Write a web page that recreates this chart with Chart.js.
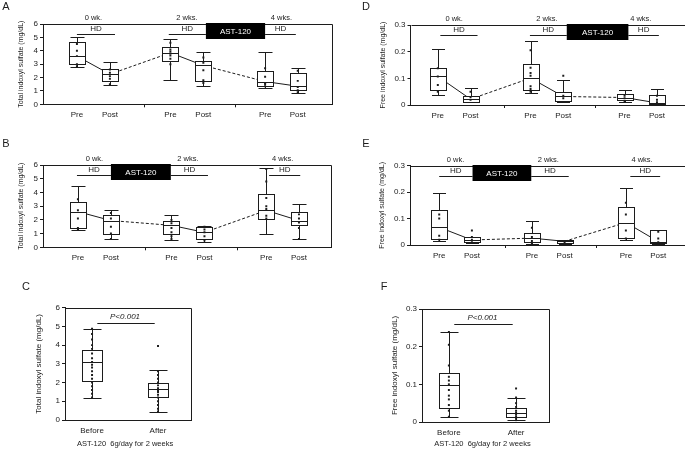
<!DOCTYPE html>
<html>
<head>
<meta charset="utf-8">
<script src="https://cdn.jsdelivr.net/npm/chart.js@4.4.1/dist/chart.umd.min.js"></script>
<style>
  html, body { margin: 0; padding: 0; background: #fff; overflow: hidden; }
  body { position: relative; width: 685px; height: 452px; }
  canvas { position: absolute; }
</style>
</head>
<body>
<canvas id="chartA" width="340" height="132" style="left:0;top:0"></canvas>
<canvas id="chartB" width="340" height="138" style="left:0;top:132px"></canvas>
<canvas id="chartC" width="220" height="182" style="left:0;top:270px"></canvas>
<canvas id="chartD" width="350" height="132" style="left:345px;top:0"></canvas>
<canvas id="chartE" width="350" height="138" style="left:345px;top:132px"></canvas>
<canvas id="chartF" width="220" height="182" style="left:345px;top:270px"></canvas>
<script>
const FONT = "'Liberation Sans', Arial, sans-serif";
const INK = '#1c1c1c';

// categories / tick labels
const sessionLabels = ['Pre', 'Post', 'Pre', 'Post', 'Pre', 'Post'];
const sessionX = [1, 2.03, 3.92, 4.95, 6.88, 7.9];
const sessionSeps = [3.1, 5.97];
const weekLabels = ['0 wk.', '2 wks.', '4 wks.'];
const pairLabels = ['Before', 'After'];
const pairX = [1, 2];
const totalTicks = ['0', '1', '2', '3', '4', '5', '6'];
const freeTicks = ['0', '0.1', '0.2', '0.3'];
const totalTitle = 'Total indoxyl sulfate (mg/dL)';
const freeTitle = 'Free indoxyl sulfate (mg/dL)';

// A: total IS, AST-120 between 2 and 4 wks
const aMin = [2.8, 1.42, 1.8, 1.4, 1.25, 0.82];
const aQ1  = [3.03, 1.74, 3.23, 1.74, 1.4, 1.07];
const aMed = [3.6, 2.25, 3.85, 2.9, 1.7, 1.35];
const aQ3  = [4.67, 2.64, 4.3, 3.23, 2.49, 2.36];
const aMax = [5.0, 3.16, 4.9, 3.93, 3.93, 2.69];
const aDots = [
  [4.5, 4.0, 3.6, 3.0, 2.85],
  [2.6, 2.35, 2.1, 1.9, 1.5],
  [4.6, 4.1, 3.95, 3.8, 3.65, 3.4, 3.0],
  [3.5, 3.1, 2.55, 1.8, 1.6],
  [2.7, 2.05, 1.6, 1.5, 1.35],
  [2.5, 1.75, 1.3, 1.05, 0.9]
];

// B: total IS, AST-120 between 0 and 2 wks
const bMin = [1.26, 0.58, 0.51, 0.36, 0.99, 0.58];
const bQ1  = [1.38, 0.97, 0.95, 0.61, 2.06, 1.6];
const bMed = [2.6, 1.95, 1.6, 1.09, 2.69, 1.95];
const bQ3  = [3.33, 2.33, 1.94, 1.46, 3.86, 2.6];
const bMax = [4.47, 2.72, 2.33, 1.55, 5.75, 3.16];
const bDots = [
  [3.5, 2.7, 2.1, 1.4, 1.3],
  [2.5, 2.1, 1.5, 1.0, 0.6],
  [2.0, 1.75, 1.4, 1.1, 0.8, 0.6],
  [1.5, 1.3, 1.1, 0.8, 0.5],
  [5.7, 4.8, 3.6, 3.0, 2.8, 2.3, 2.1],
  [2.4, 2.1, 1.8, 1.4, 0.6]
];

// C: total IS before / after 2 weeks of AST-120
const cMin = [1.19, 0.44];
const cQ1  = [2.08, 1.21];
const cMed = [3.08, 1.65];
const cQ3  = [3.72, 1.96];
const cMax = [4.88, 2.67];
const cDots = [
  [4.88, 4.6, 4.3, 4.0, 3.8, 3.55, 3.3, 3.1, 2.95, 2.8, 2.6, 2.4, 2.2, 2.0, 1.8, 1.6, 1.4, 1.2],
  [3.95, 2.6, 2.4, 2.2, 2.0, 1.85, 1.7, 1.6, 1.5, 1.35, 1.2, 1.0, 0.8, 0.6, 0.45]
];

// D: free IS, AST-120 between 2 and 4 wks
const dMin = [0.037, 0.01, 0.044, 0.013, 0.011, 0.004];
const dQ1  = [0.057, 0.013, 0.057, 0.015, 0.019, 0.005];
const dMed = [0.107, 0.022, 0.101, 0.032, 0.028, 0.008];
const dQ3  = [0.137, 0.033, 0.154, 0.048, 0.041, 0.036];
const dMax = [0.21, 0.063, 0.24, 0.093, 0.056, 0.059];
const dDots = [
  [0.138, 0.107, 0.075, 0.05],
  [0.05, 0.03, 0.02],
  [0.205, 0.14, 0.12, 0.11, 0.07, 0.06, 0.05],
  [0.11, 0.035, 0.025],
  [0.035, 0.025, 0.015],
  [0.035, 0.02, 0.01]
];

// E: free IS, AST-120 between 0 and 2 wks
const eMin = [0.016, 0.006, 0.004, 0.005, 0.019, 0.005];
const eQ1  = [0.023, 0.01, 0.013, 0.006, 0.028, 0.006];
const eMed = [0.067, 0.019, 0.026, 0.014, 0.085, 0.013];
const eQ3  = [0.132, 0.03, 0.047, 0.02, 0.142, 0.057];
const eMax = [0.195, 0.032, 0.091, 0.02, 0.217, 0.057];
const eDots = [
  [0.115, 0.1, 0.035, 0.02],
  [0.055, 0.03, 0.02, 0.01],
  [0.065, 0.03, 0.015, 0.005],
  [0.015, 0.01],
  [0.16, 0.115, 0.055, 0.025],
  [0.05, 0.025, 0.01]
];

// F: free IS before / after
const fMin = [0.014, 0.004];
const fQ1  = [0.038, 0.013];
const fMed = [0.098, 0.023];
const fQ3  = [0.131, 0.038];
const fMax = [0.239, 0.065];
const fDots = [
  [0.239, 0.205, 0.15, 0.12, 0.11, 0.1, 0.085, 0.07, 0.06, 0.045, 0.03, 0.014],
  [0.089, 0.065, 0.05, 0.04, 0.03, 0.025, 0.02, 0.015, 0.01, 0.005]
];

// layout of each panel (pixels / x-units), kept apart from the data
const panels = [
  { id: 'chartA', letter: 'A', letterAt: [6, 7], box: [aMin, aQ1, aMed, aQ3, aMax], dots: aDots,
    timeline: true, yMax: 6, step: 1, yTicks: totalTicks, title: totalTitle, titleSize: 7, titleX: 20.6,
    xMin: -0.06, xMax: 8.97, pad: { top: 24, right: 8 }, yWidth: 43, xHeight: 27.7, half: 8, cap: 7,
    hd: [[1.0, 2.19], [3.87, 5.03], [6.88, 7.84]], ast: [5.03, 6.88] },
  { id: 'chartB', letter: 'B', letterAt: [6, 12], box: [bMin, bQ1, bMed, bQ3, bMax], dots: bDots,
    timeline: true, yMax: 6, step: 1, yTicks: totalTicks, title: totalTitle, titleSize: 7, titleX: 20.7,
    xMin: -0.09, xMax: 8.9, pad: { top: 33, right: 9 }, yWidth: 43, xHeight: 22.7, half: 8, cap: 7,
    hd: [[0.97, 2.03], [3.9, 5.06], [6.97, 7.94]], ast: [2.03, 3.9] },
  { id: 'chartD', letter: 'D', letterAt: [21, 7], box: [dMin, dQ1, dMed, dQ3, dMax], dots: dDots,
    timeline: true, yMax: 0.3, step: 0.1, yTicks: freeTicks, title: freeTitle, titleSize: 7, titleX: 38,
    xMin: 0.14, xMax: 8.94, pad: { top: 25, right: 5 }, yWidth: 65.5, xHeight: 27, half: 8, cap: 6.5,
    hd: [[1.08, 2.25], [3.9, 5.06], [7.0, 7.96]], ast: [5.06, 7.0] },
  { id: 'chartE', letter: 'E', letterAt: [21, 12], box: [eMin, eQ1, eMed, eQ3, eMax], dots: eDots,
    timeline: true, yMax: 0.3, step: 0.1, yTicks: freeTicks, title: freeTitle, titleSize: 7, titleX: 37.3,
    xMin: 0.08, xMax: 8.9, pad: { top: 33.7, right: 5 }, yWidth: 65, xHeight: 25, half: 8, cap: 6.5,
    hd: [[1.0, 2.05], [3.9, 5.08], [7.02, 7.96]], ast: [2.05, 3.9] },
  { id: 'chartC', letter: 'C', letterAt: [26, 17], box: [cMin, cQ1, cMed, cQ3, cMax], dots: cDots,
    timeline: false, yMax: 6, step: 1, yTicks: totalTicks, title: totalTitle, titleSize: 8, titleX: 38.3,
    xMin: 0.59, xMax: 2.5, pad: { top: 37.7, right: 29 }, yWidth: 65, xHeight: 32, half: 10, cap: 9 },
  { id: 'chartF', letter: 'F', letterAt: [39, 17], box: [fMin, fQ1, fMed, fQ3, fMax], dots: fDots,
    timeline: false, yMax: 0.3, step: 0.1, yTicks: freeTicks, title: freeTitle, titleSize: 8, titleX: 50,
    xMin: 0.6, xMax: 2.49, pad: { top: 39, right: 16 }, yWidth: 77, xHeight: 30, half: 10, cap: 9 }
];

function font(size, style) {
  return { family: FONT, size: size, style: style || 'normal', lineHeight: 1.2 };
}

function makePanel(p) {
  const xs = p.timeline ? sessionX : pairX;
  const labels = p.timeline ? sessionLabels : pairLabels;
  const seps = p.timeline ? sessionSeps : [];
  const tickVals = xs.concat(seps);
  const tickText = labels.concat(seps.map(() => ''));
  const [lo, q1, med, q3, hi] = p.box;

  const datasets = [{
    type: 'scatter',
    label: 'dots',
    order: 1,
    data: p.dots.flatMap((vals, i) => vals.map(v => ({ x: xs[i], y: v }))),
    pointStyle: 'rect',
    pointRadius: 1.4,
    pointBorderWidth: 0,
    backgroundColor: INK,
    borderColor: INK
  }];
  if (p.timeline) {
    datasets.push({
      type: 'line',
      label: 'median',
      order: 2,
      data: xs.map((x, i) => ({ x: x, y: med[i] })),
      borderColor: INK,
      borderWidth: 1,
      pointRadius: 0,
      fill: false,
      tension: 0,
      segment: { borderDash: c => (c.p0DataIndex % 2 === 1 ? [3, 2] : undefined) }
    });
  }

  // box + whiskers, drawn over the median line but under the dots
  const boxPlugin = {
    id: 'boxes',
    beforeDatasetDraw(chart, args) {
      if (chart.data.datasets[args.index].label !== 'dots') return;
      const ctx = chart.ctx, sx = chart.scales.x, sy = chart.scales.y;
      ctx.save();
      ctx.strokeStyle = INK;
      ctx.lineWidth = 1;
      xs.forEach((xv, i) => {
        const cx = Math.round(sx.getPixelForValue(xv)) + 0.5;
        const y = v => Math.round(sy.getPixelForValue(v)) + 0.5;
        const yLo = y(lo[i]), yHi = y(hi[i]), y1 = y(q1[i]), y3 = y(q3[i]), ym = y(med[i]);
        ctx.beginPath();
        ctx.moveTo(cx, yHi); ctx.lineTo(cx, yLo);
        ctx.moveTo(cx - p.cap, yHi); ctx.lineTo(cx + p.cap, yHi);
        ctx.moveTo(cx - p.cap, yLo); ctx.lineTo(cx + p.cap, yLo);
        ctx.stroke();
        ctx.fillStyle = '#fff';
        ctx.fillRect(cx - p.half, y3, p.half * 2, y1 - y3);
        ctx.strokeRect(cx - p.half, y3, p.half * 2, y1 - y3);
        ctx.beginPath();
        ctx.moveTo(cx - p.half, ym); ctx.lineTo(cx + p.half, ym);
        ctx.stroke();
      });
      ctx.restore();
    }
  };

  // frame, panel letter, visit timeline, p-value
  const notePlugin = {
    id: 'notes',
    afterDraw(chart) {
      const ctx = chart.ctx, a = chart.chartArea, sx = chart.scales.x;
      const px = v => sx.getPixelForValue(v);
      ctx.save();
      ctx.strokeStyle = INK;
      ctx.lineWidth = 1;
      ctx.beginPath();
      ctx.moveTo(Math.round(a.left) + 0.5, Math.round(a.top) + 0.5);
      ctx.lineTo(Math.round(a.right) + 0.5, Math.round(a.top) + 0.5);
      ctx.lineTo(Math.round(a.right) + 0.5, Math.round(a.bottom) + 0.5);
      ctx.stroke();

      ctx.fillStyle = INK;
      ctx.textAlign = 'center';
      ctx.textBaseline = 'middle';
      ctx.font = '11px ' + FONT;
      ctx.fillText(p.letter, p.letterAt[0], p.letterAt[1]);

      const top = Math.round(a.top);
      if (p.timeline) {
        ctx.font = '7.5px ' + FONT;
        ctx.textBaseline = 'bottom';
        weekLabels.forEach((t, i) => {
          const c = (xs[2 * i] + xs[2 * i + 1]) / 2;
          ctx.fillText(t, px(c), top - 2);
        });
        ctx.font = '8px ' + FONT;
        const hy = top + 10.5;
        p.hd.forEach(([x0, x1]) => {
          ctx.beginPath();
          ctx.moveTo(px(x0), hy); ctx.lineTo(px(x1), hy);
          ctx.stroke();
          ctx.fillText('HD', px((x0 + x1) / 2), hy - 1.5);
        });
        ctx.fillStyle = '#000';
        ctx.fillRect(px(p.ast[0]), top - 1, px(p.ast[1]) - px(p.ast[0]), 16);
        ctx.fillStyle = '#fff';
        ctx.font = '8px ' + FONT;
        ctx.textBaseline = 'middle';
        ctx.fillText('AST-120', px((p.ast[0] + p.ast[1]) / 2), top + 7.5);
      } else {
        ctx.font = 'italic 8px ' + FONT;
        ctx.fillText('P<0.001', px(1.5), top + 8.5);
        ctx.beginPath();
        ctx.moveTo(px(1.08), top + 15.5); ctx.lineTo(px(1.95), top + 15.5);
        ctx.stroke();
        ctx.font = '7.5px ' + FONT;
        ctx.fillText('AST-120  6g/day for 2 weeks', px(1.5), 174);
      }
      ctx.restore();
    }
  };

  new Chart(document.getElementById(p.id), {
    type: 'scatter',
    data: { datasets: datasets },
    plugins: [boxPlugin, notePlugin],
    options: {
      responsive: false,
      animation: false,
      events: [],
      layout: { padding: { top: p.pad.top, right: p.pad.right, left: 0, bottom: 0 } },
      plugins: { legend: { display: false }, tooltip: { enabled: false } },
      scales: {
        x: {
          type: 'linear',
          min: p.xMin,
          max: p.xMax,
          afterBuildTicks: axis => { axis.ticks = tickVals.map(v => ({ value: v })); },
          afterFit: s => { s.height = p.xHeight; },
          ticks: {
            autoSkip: false, maxRotation: 0, padding: 3, color: INK, font: font(8),
            callback: (v, i) => tickText[i]
          },
          grid: {
            display: true, drawOnChartArea: false, tickLength: 3,
            tickColor: c => (c.tick && seps.includes(c.tick.value) ? INK : 'rgba(0,0,0,0)')
          },
          border: { display: true, color: INK, width: 1 }
        },
        y: {
          min: 0,
          max: p.yMax,
          afterFit: s => { s.width = p.yWidth; },
          ticks: {
            stepSize: p.step, padding: 2, color: INK, font: font(8),
            callback: (v, i) => p.yTicks[i]
          },
          grid: { display: true, drawOnChartArea: false, tickLength: 3, tickColor: INK },
          border: { display: true, color: INK, width: 1 },
          title: {
            display: true, text: p.title, color: INK, font: font(p.titleSize),
            padding: { top: p.titleX - p.titleSize * 0.6, bottom: 0 }
          }
        }
      }
    }
  });
}

panels.forEach(makePanel);
</script>
</body>
</html>
